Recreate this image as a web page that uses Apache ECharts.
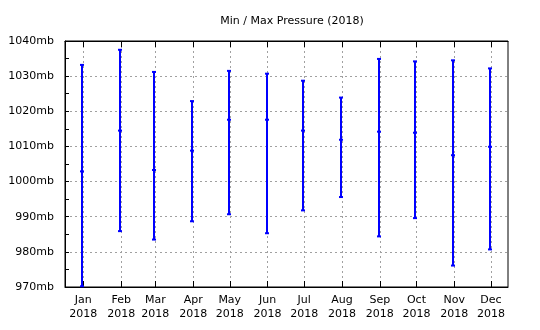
<!DOCTYPE html>
<html><head><meta charset="utf-8">
<script src="https://cdn.jsdelivr.net/npm/echarts@6/dist/echarts.min.js"></script>
<style>html,body{margin:0;padding:0;background:#fff}#c{width:540px;height:330px}</style>
</head><body><div id="c"></div>
<script>
const months = ['2018-01-01','2018-02-01','2018-03-01','2018-04-01','2018-05-01','2018-06-01','2018-07-01','2018-08-01','2018-09-01','2018-10-01','2018-11-01','2018-12-01'];
const minP = [970.2, 985.9, 983.5, 988.7, 990.7, 985.3, 991.8, 995.6, 984.4, 989.6, 976.1, 980.7];
const avgP = [1002.9, 1014.5, 1003.3, 1008.8, 1017.6, 1017.6, 1014.5, 1011.9, 1014.2, 1013.9, 1007.5, 1009.9];
const maxP = [1033.2, 1037.5, 1031.2, 1022.9, 1031.5, 1030.7, 1028.7, 1023.9, 1034.9, 1034.2, 1034.5, 1032.2];
const yTicks = [970, 980, 990, 1000, 1010, 1020, 1030, 1040];
const monthNames = ['Jan','Feb','Mar','Apr','May','Jun','Jul','Aug','Sep','Oct','Nov','Dec'];
const xMin = '2017-12-17', xMax = '2018-12-15';

const toMs = d => new Date(d + 'T00:00:00Z').getTime();
const tickVals = months.map(toMs);
const FONT = 'DejaVu Sans';
const chart = echarts.init(document.getElementById('c'), null, {renderer: 'canvas'});
const data = months.map((d, i) => [toMs(d), minP[i], avgP[i], maxP[i]]);
const gridLine = {show: true, lineStyle: {color: '#a0a0a0', type: [2, 3], width: 1}};
chart.setOption({
  animation: false,
  title: {text: 'Min / Max Pressure (2018)', left: 287, top: 11, textAlign: 'center',
    textStyle: {fontFamily: FONT, fontSize: 11, fontWeight: 'normal', color: '#000'}},
  grid: {left: 65, right: 32, top: 41, bottom: 43, show: true, borderColor: '#000', borderWidth: 1, backgroundColor: 'transparent'},
  xAxis: [{
    type: 'value', min: toMs(xMin), max: toMs(xMax), position: 'bottom',
    axisLine: {show: true, lineStyle: {color: '#000'}},
    axisTick: {show: true, inside: true, length: 6, lineStyle: {color: '#000'}, customValues: tickVals},
    axisLabel: {customValues: tickVals, fontFamily: FONT, fontSize: 11, color: '#000', margin: 6, lineHeight: 14,
      formatter: v => { const d = new Date(v); return monthNames[d.getUTCMonth()] + '\n' + d.getUTCFullYear(); }},
    splitLine: gridLine
  }, {
    type: 'value', min: toMs(xMin), max: toMs(xMax), position: 'top',
    axisLine: {show: true, lineStyle: {color: '#000'}},
    axisTick: {show: true, inside: true, length: 6, lineStyle: {color: '#000'}, customValues: tickVals},
    axisLabel: {show: false, customValues: tickVals},
    splitLine: {show: false}
  }],
  yAxis: {
    type: 'value', min: 970, max: 1040, interval: 10,
    axisLine: {show: true, lineStyle: {color: '#000'}},
    axisTick: {show: true, inside: true, length: 4, lineStyle: {color: '#000'}},
    minorTick: {show: true, splitNumber: 2, length: 4, lineStyle: {color: '#000'}},
    axisLabel: {fontFamily: FONT, fontSize: 11, color: '#000', margin: 11, formatter: v => v + 'mb'},
    splitLine: gridLine
  },
  series: [{
    type: 'custom', xAxisIndex: 0, yAxisIndex: 0,
    data: data,
    encode: {x: 0, y: [1, 2, 3]},
    renderItem: function (params, api) {
      const x = api.value(0);
      const lo = api.coord([x, api.value(1)]);
      const mid = api.coord([x, api.value(2)]);
      const hi = api.coord([x, api.value(3)]);
      const cx = Math.round(lo[0]) - 1;
      const st = {stroke: '#0000ff', lineWidth: 2};
      const capW = 2;
      return {type: 'group', children: [
        {type: 'line', shape: {x1: cx, y1: lo[1], x2: cx, y2: hi[1]}, style: st},
        {type: 'line', shape: {x1: cx - capW, y1: lo[1], x2: cx + capW, y2: lo[1]}, style: st},
        {type: 'line', shape: {x1: cx - capW, y1: hi[1], x2: cx + capW, y2: hi[1]}, style: st},
        {type: 'line', shape: {x1: cx - capW, y1: mid[1], x2: cx + capW, y2: mid[1]}, style: st}
      ]};
    }
  }]
});
</script></body></html>
